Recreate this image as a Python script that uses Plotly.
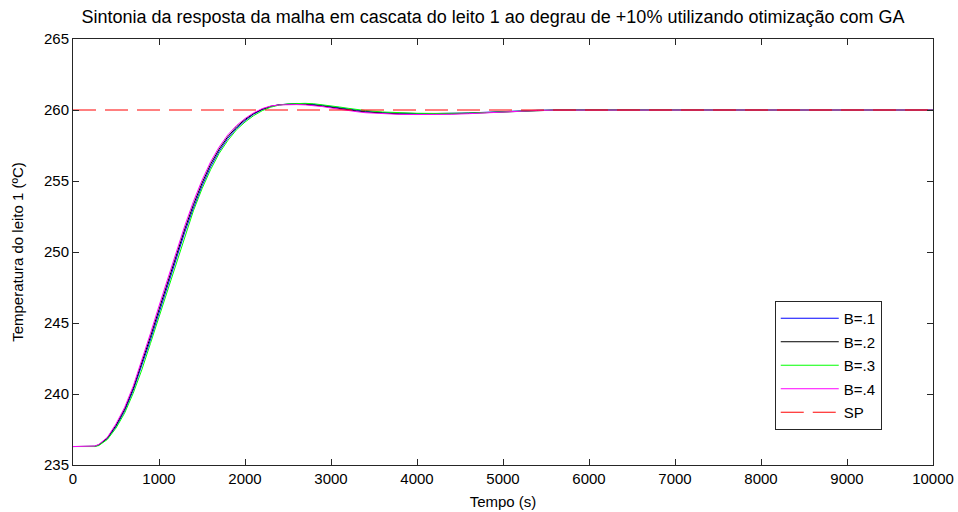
import plotly.graph_objects as go

# Time (s)
t = [0, 200, 250, 300, 400, 500, 600, 700, 800, 900, 1000, 1100, 1200, 1300, 1400,
     1500, 1600, 1700, 1800, 1900, 2000, 2100, 2200, 2300, 2400, 2500, 2600, 2700,
     2800, 2900, 3000, 3100, 3200, 3300, 3400, 3600, 3800, 4000, 4200, 4400, 4600,
     4800, 5000, 5200, 5400, 5600, 6000, 7000, 8000, 9000, 10000]

b1 = [236.3, 236.3, 236.31, 236.4, 236.85, 237.7, 238.8, 240.25, 241.95, 243.8, 245.7,
      247.6, 249.5, 251.4, 253.1, 254.65, 256.0, 257.1, 258.0, 258.7, 259.25, 259.7,
      260.02, 260.24, 260.37, 260.44, 260.46, 260.45, 260.4, 260.33, 260.24, 260.15,
      260.06, 259.98, 259.91, 259.82, 259.77, 259.75, 259.75, 259.76, 259.79, 259.84,
      259.9, 259.95, 259.98, 260.0, 260.0, 260.0, 260.0, 260.0, 260.0]

b2 = [236.3, 236.3, 236.32, 236.42, 236.9, 237.8, 238.93, 240.4, 242.15, 244.03, 245.95,
      247.85, 249.75, 251.62, 253.33, 254.85, 256.18, 257.25, 258.12, 258.8, 259.33,
      259.75, 260.06, 260.26, 260.37, 260.41, 260.42, 260.4, 260.36, 260.28, 260.19,
      260.09, 260.0, 259.93, 259.86, 259.77, 259.72, 259.71, 259.71, 259.73, 259.77,
      259.82, 259.88, 259.94, 259.97, 259.99, 260.0, 260.0, 260.0, 260.0, 260.0]

b3 = [236.3, 236.3, 236.3, 236.37, 236.8, 237.6, 238.65, 240.05, 241.7, 243.55, 245.45,
      247.35, 249.25, 251.15, 252.9, 254.45, 255.8, 256.95, 257.85, 258.6, 259.15, 259.6,
      259.95, 260.2, 260.35, 260.43, 260.47, 260.47, 260.44, 260.38, 260.3, 260.21,
      260.12, 260.03, 259.96, 259.86, 259.8, 259.77, 259.76, 259.76, 259.78, 259.82,
      259.88, 259.93, 259.97, 259.99, 260.0, 260.0, 260.0, 260.0, 260.0]

b4 = [236.3, 236.3, 236.33, 236.45, 236.95, 237.9, 239.05, 240.55, 242.35, 244.25, 246.2,
      248.1, 250.0, 251.85, 253.55, 255.05, 256.35, 257.4, 258.25, 258.9, 259.4, 259.8,
      260.1, 260.28, 260.36, 260.38, 260.38, 260.36, 260.32, 260.24, 260.14, 260.04,
      259.96, 259.88, 259.81, 259.73, 259.69, 259.68, 259.68, 259.7, 259.74, 259.8,
      259.87, 259.93, 259.97, 259.99, 260.0, 260.0, 260.0, 260.0, 260.0]

sp_t = [0, 10000]
sp = [260, 260]

x_ticks = list(range(0, 10001, 1000))
x_labels = [str(v) for v in x_ticks]
y_ticks = list(range(235, 266, 5))

series = [("B=.1", b1, "#0000ff"), ("B=.2", b2, "#000000"),
          ("B=.3", b3, "#00ff00"), ("B=.4", b4, "#ff00ff")]

FONT = "Liberation Sans, Arial, sans-serif"

fig = go.Figure()
for name, y, c in series:
    fig.add_trace(go.Scatter(x=t, y=y, mode="lines", name=name, legendgroup=name,
                             line=dict(color=c, width=1)))
fig.add_trace(go.Scatter(x=sp_t, y=sp, mode="lines", name="SP", legendgroup="SP",
                         line=dict(color="#ff0000", width=1, dash="23px,9px")))

axis_common = dict(showgrid=False, zeroline=False, showline=True, linecolor="#262626",
                   linewidth=1, mirror="allticks", ticks="inside", ticklen=6,
                   automargin=False,
                   tickcolor="#262626", tickfont=dict(family=FONT, size=15, color="#000"))

fig.update_xaxes(range=[0, 10000], tickvals=x_ticks, ticktext=x_labels,
                 title=dict(text="Tempo (s)", font=dict(family=FONT, size=15, color="#000"),
                            standoff=10), **axis_common)
fig.update_yaxes(range=[235, 265], tickvals=y_ticks,
                 title=dict(text="Temperatura do leito 1 (ºC)",
                            font=dict(family=FONT, size=15, color="#000"), standoff=16),
                 **axis_common)

fig.update_layout(
    width=958, height=512,
    margin=dict(l=73, r=25, t=39, b=47),
    paper_bgcolor="white", plot_bgcolor="white",
    title=dict(text="Sintonia da resposta da malha em cascata do leito 1 ao degrau de +10% utilizando otimização com GA",
               font=dict(family=FONT, size=18, color="#000"),
               x=493 / 958, xref="container", xanchor="center", y=1 - 17 / 512, yref="container",
               yanchor="middle"),
    legend=dict(x=0.816, y=0.385, xanchor="left", yanchor="top",
                bgcolor="white", bordercolor="#262626", borderwidth=1,
                font=dict(family=FONT, size=15, color="#000"),
                traceorder="grouped", itemwidth=58, tracegroupgap=1),
    showlegend=True,
)

fig.write_html("out.html")
